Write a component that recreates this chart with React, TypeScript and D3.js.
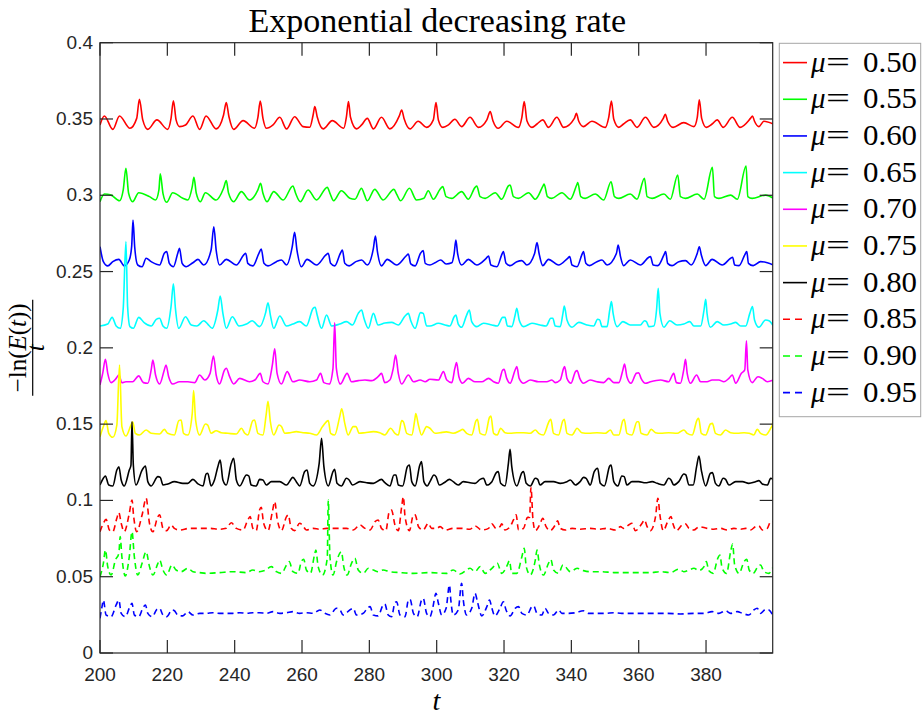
import React from "react";
import * as d3 from "d3";

type P = [number, number];

const MU_LABELS = ["0.50", "0.55", "0.60", "0.65", "0.70", "0.75", "0.80", "0.85", "0.90", "0.95"];
const COLORS = ["#ff0000", "#00ff00", "#0000ff", "#00ffff", "#ff00ff", "#ffff00", "#000000", "#ff0000", "#00ff00", "#0000ff"];
const DASHED = [false, false, false, false, false, false, false, true, true, true];
const X_TICKS = [200, 220, 240, 260, 280, 300, 320, 340, 360, 380];
const Y_TICKS = [0, 0.05, 0.1, 0.15, 0.2, 0.25, 0.3, 0.35, 0.4];
const Y_TICK_LABELS = ["0", "0.05", "0.1", "0.15", "0.2", "0.25", "0.3", "0.35", "0.4"];

const S050: P[] = [[200.0,.3461],[201.3,.3520],[203.8,.3432],[205.8,.3520],[208.9,.3439],[210.9,.3504],[211.7,.3629],[212.7,.3494],[214.2,.3432],[216.9,.3494],[220.1,.3432],[221.1,.3504],[221.8,.3620],[222.6,.3494],[223.6,.3450],[225.4,.3461],[227.6,.3520],[229.6,.3432],[231.5,.3520],[234.5,.3435],[236.7,.3526],[237.5,.3607],[238.3,.3515],[239.7,.3432],[242.5,.3489],[245.9,.3439],[246.9,.3511],[247.6,.3618],[248.4,.3504],[249.4,.3439],[251.4,.3461],[253.4,.3511],[255.4,.3435],[257.8,.3515],[260.3,.3450],[262.3,.3446],[263.3,.3526],[263.8,.3581],[264.5,.3515],[266.3,.3435],[269.0,.3489],[272.4,.3439],[273.2,.3515],[273.8,.3614],[274.4,.3511],[276.2,.3435],[277.7,.3461],[279.4,.3504],[281.2,.3435],[283.6,.3511],[286.1,.3435],[288.9,.3520],[289.6,.3559],[290.3,.3504],[292.1,.3435],[294.5,.3485],[297.0,.3445],[299.0,.3494],[299.8,.3607],[300.5,.3494],[301.8,.3445],[303.5,.3461],[305.4,.3498],[307.4,.3450],[309.9,.3511],[312.4,.3445],[314.9,.3494],[315.9,.3548],[316.7,.3489],[318.3,.3439],[320.8,.3485],[324.3,.3445],[325.3,.3511],[326.0,.3614],[326.8,.3489],[328.3,.3445],[329.8,.3467],[331.5,.3494],[333.2,.3445],[335.7,.3511],[337.7,.3445],[340.9,.3504],[341.5,.3537],[342.2,.3485],[343.6,.3450],[346.1,.3485],[350.1,.3445],[351.1,.3511],[351.9,.3618],[352.6,.3498],[354.1,.3445],[355.5,.3467],[357.5,.3494],[359.5,.3445],[362.0,.3511],[364.5,.3445],[367.3,.3504],[367.9,.3531],[368.6,.3485],[370.2,.3445],[373.4,.3476],[376.4,.3450],[377.4,.3511],[378.0,.3625],[378.7,.3504],[380.1,.3445],[381.8,.3467],[383.3,.3494],[385.1,.3445],[387.8,.3511],[390.1,.3445],[393.2,.3504],[393.8,.3520],[394.4,.3485],[395.7,.3450],[397.2,.3485],[400.0,.3467]];

const S055: P[] = [[200.0,.2958],[201.3,.3008],[203.3,.3001],[205.8,.2964],[206.9,.3035],[207.7,.3177],[208.5,.3013],[209.7,.2958],[211.5,.3017],[214.7,.2991],[216.5,.2969],[217.5,.3035],[217.9,.3140],[218.7,.3013],[219.8,.2954],[221.6,.3017],[224.6,.2980],[226.1,.2969],[227.4,.3057],[227.9,.3118],[228.6,.3013],[229.8,.2958],[231.3,.3017],[234.5,.2969],[236.7,.3046],[237.5,.3096],[238.2,.3013],[239.7,.2958],[242.0,.3024],[244.4,.2969],[246.9,.3035],[247.7,.3078],[248.4,.3013],[249.6,.2958],[251.6,.3024],[254.4,.2969],[257.3,.3061],[258.1,.3013],[259.5,.2958],[261.8,.3035],[264.3,.2969],[267.5,.3052],[268.3,.3013],[269.4,.2964],[271.7,.3030],[274.2,.2980],[275.7,.2974],[277.7,.3046],[278.4,.3013],[279.4,.2964],[281.6,.3039],[284.1,.2969],[287.3,.3039],[288.1,.3008],[289.3,.2964],[291.9,.3046],[294.0,.2969],[296.2,.2980],[297.5,.3030],[299.0,.2974],[301.0,.3039],[301.8,.3057],[302.8,.2991],[304.5,.2980],[307.4,.3024],[309.4,.2974],[311.4,.3052],[311.9,.3061],[312.9,.2991],[314.4,.2980],[317.4,.3017],[319.3,.2974],[321.3,.3061],[321.8,.3067],[322.8,.2991],[324.3,.2980],[327.3,.3017],[329.3,.2974],[331.7,.3067],[331.9,.3074],[332.9,.2991],[334.2,.2980],[337.2,.3017],[339.7,.2974],[341.7,.3074],[341.9,.3083],[342.8,.2991],[344.1,.2980],[347.1,.3008],[349.6,.2969],[351.8,.3089],[352.8,.2991],[354.1,.2980],[357.5,.3008],[359.5,.2974],[361.7,.3111],[362.5,.2991],[364.0,.2980],[367.5,.3008],[369.4,.2974],[371.6,.3133],[372.4,.2991],[373.9,.2980],[377.4,.3008],[379.4,.2974],[381.9,.3183],[382.5,.2991],[383.8,.2980],[387.3,.3001],[389.3,.2974],[391.9,.3192],[392.4,.2991],[393.7,.2980],[397.7,.3001],[400.0,.2980]];

const S060: P[] = [[200.0,.2663],[201.0,.2565],[202.3,.2537],[203.8,.2565],[205.6,.2580],[207.2,.2537],[208.7,.2576],[209.4,.2663],[209.8,.2838],[210.3,.2663],[211.2,.2543],[212.5,.2532],[213.7,.2587],[215.2,.2565],[217.7,.2543],[219.1,.2620],[219.8,.2631],[220.6,.2554],[221.8,.2532],[223.1,.2620],[223.6,.2652],[224.4,.2554],[225.6,.2532],[227.6,.2558],[229.1,.2580],[230.8,.2543],[233.0,.2641],[233.8,.2794],[234.5,.2641],[235.5,.2543],[237.5,.2580],[240.5,.2543],[242.7,.2609],[243.3,.2620],[243.9,.2554],[245.4,.2537],[247.2,.2620],[247.9,.2648],[248.7,.2554],[249.9,.2537],[252.4,.2565],[253.9,.2576],[255.4,.2543],[257.1,.2663],[257.8,.2757],[258.5,.2641],[259.8,.2532],[261.5,.2580],[264.3,.2543],[267.1,.2609],[267.8,.2620],[268.5,.2554],[269.7,.2537],[271.4,.2620],[272.0,.2641],[272.7,.2554],[274.0,.2537],[276.0,.2565],[277.7,.2576],[279.4,.2543],[281.2,.2652],[281.8,.2733],[282.4,.2631],[283.6,.2537],[285.3,.2580],[288.1,.2543],[290.9,.2602],[291.6,.2615],[292.3,.2550],[293.6,.2537],[295.2,.2620],[296.0,.2637],[296.6,.2554],[298.0,.2543],[299.5,.2558],[301.2,.2576],[302.8,.2550],[304.5,.2558],[305.2,.2620],[305.7,.2707],[306.2,.2620],[307.4,.2543],[309.4,.2580],[311.9,.2543],[314.7,.2587],[315.4,.2602],[316.1,.2543],[317.9,.2532],[319.3,.2609],[319.8,.2631],[320.6,.2554],[321.8,.2539],[323.8,.2565],[325.3,.2572],[326.8,.2543],[329.1,.2620],[329.8,.2690],[330.4,.2620],[331.5,.2539],[333.2,.2580],[336.2,.2543],[338.9,.2587],[339.5,.2598],[340.2,.2543],[341.7,.2532],[343.1,.2609],[343.6,.2631],[344.3,.2554],[345.4,.2539],[347.6,.2565],[349.1,.2576],[350.6,.2543],[353.4,.2620],[353.9,.2674],[354.6,.2598],[355.5,.2539],[357.5,.2576],[360.5,.2543],[363.0,.2594],[363.5,.2598],[364.3,.2543],[365.7,.2539],[367.5,.2609],[368.0,.2631],[368.6,.2554],[369.9,.2539],[371.9,.2565],[373.9,.2572],[375.6,.2543],[377.4,.2620],[378.0,.2663],[378.6,.2609],[379.9,.2539],[381.8,.2580],[384.8,.2543],[387.3,.2587],[387.9,.2594],[388.5,.2543],[389.8,.2539],[391.5,.2609],[392.1,.2631],[392.6,.2554],[394.0,.2539],[396.2,.2565],[398.2,.2558],[400.0,.2543]];

const S065: P[] = [[200.0,.2143],[202.3,.2156],[203.6,.2200],[204.8,.2143],[206.0,.2128],[206.9,.2259],[207.7,.2696],[208.2,.2270],[208.9,.2139],[209.9,.2128],[211.5,.2200],[213.2,.2163],[215.2,.2143],[216.7,.2187],[217.7,.2194],[218.7,.2143],[219.8,.2128],[221.1,.2270],[221.8,.2419],[222.4,.2259],[223.4,.2128],[225.4,.2204],[227.1,.2150],[228.8,.2143],[230.8,.2178],[232.0,.2156],[233.3,.2128],[235.0,.2248],[235.7,.2340],[236.5,.2226],[237.5,.2128],[239.3,.2204],[241.3,.2143],[243.5,.2156],[245.2,.2178],[247.4,.2139],[249.2,.2231],[249.9,.2296],[250.6,.2215],[251.6,.2128],[253.4,.2209],[255.4,.2143],[257.3,.2156],[259.3,.2172],[261.3,.2143],[263.3,.2259],[263.9,.2266],[264.5,.2215],[265.8,.2128],[267.3,.2215],[268.8,.2143],[271.2,.2156],[273.2,.2172],[275.0,.2150],[276.7,.2226],[277.7,.2248],[278.4,.2194],[279.7,.2128],[281.2,.2226],[282.6,.2150],[284.6,.2163],[286.6,.2167],[288.6,.2150],[290.6,.2209],[291.6,.2226],[292.3,.2178],[293.6,.2128],[295.2,.2231],[296.0,.2226],[297.0,.2143],[298.0,.2143],[300.5,.2161],[302.5,.2150],[303.9,.2143],[305.2,.2204],[305.7,.2215],[306.4,.2156],[307.4,.2135],[308.9,.2215],[309.7,.2248],[310.4,.2172],[311.9,.2139],[313.9,.2161],[316.4,.2150],[318.0,.2143],[319.6,.2200],[320.3,.2200],[321.0,.2143],[322.3,.2139],[323.3,.2215],[323.8,.2259],[324.5,.2183],[325.8,.2139],[328.3,.2161],[330.7,.2150],[332.5,.2143],[333.9,.2194],[334.5,.2194],[335.2,.2143],[336.7,.2139],[337.5,.2226],[337.9,.2274],[338.7,.2183],[340.2,.2135],[342.2,.2167],[344.6,.2150],[346.6,.2143],[347.8,.2187],[348.4,.2183],[349.1,.2139],[350.6,.2139],[351.4,.2248],[351.9,.2303],[352.4,.2226],[353.6,.2139],[355.3,.2172],[357.5,.2150],[360.5,.2150],[361.7,.2178],[362.3,.2172],[363.0,.2139],[364.5,.2143],[365.3,.2248],[365.8,.2390],[366.3,.2226],[367.5,.2135],[369.2,.2178],[371.4,.2150],[373.4,.2156],[375.2,.2172],[376.4,.2143],[378.4,.2143],[379.4,.2248],[379.9,.2318],[380.3,.2226],[381.3,.2135],[383.3,.2172],[385.3,.2150],[387.3,.2156],[388.8,.2167],[390.3,.2143],[391.8,.2143],[393.0,.2226],[393.8,.2270],[394.4,.2183],[395.7,.2135],[397.7,.2183],[398.7,.2178],[400.0,.2143]];

const S070: P[] = [[200.0,.1757],[200.8,.1833],[201.6,.1925],[202.3,.1833],[203.3,.1772],[204.8,.1800],[205.6,.1822],[206.5,.1772],[207.7,.1778],[209.7,.1778],[211.5,.1816],[212.9,.1772],[214.2,.1768],[215.2,.1855],[215.7,.1920],[216.5,.1822],[217.7,.1763],[219.1,.1855],[219.6,.1888],[220.4,.1811],[221.6,.1763],[223.6,.1778],[226.1,.1778],[228.1,.1772],[229.6,.1822],[231.1,.1789],[232.7,.1833],[233.7,.1947],[234.5,.1822],[235.5,.1763],[237.0,.1855],[237.5,.1866],[238.5,.1811],[239.7,.1763],[241.5,.1800],[244.4,.1778],[246.0,.1789],[247.6,.1833],[248.4,.1778],[249.9,.1763],[251.2,.1888],[251.9,.1993],[252.6,.1833],[253.9,.1763],[255.6,.1844],[257.3,.1778],[259.3,.1789],[262.3,.1778],[264.3,.1789],[265.5,.1833],[266.5,.1772],[268.1,.1763],[269.2,.1866],[269.7,.2165],[270.2,.1866],[271.4,.1763],[273.4,.1833],[274.7,.1778],[276.7,.1785],[278.7,.1789],[280.7,.1785],[282.6,.1811],[283.6,.1833],[284.6,.1772],[286.1,.1789],[287.1,.1866],[287.8,.1953],[288.6,.1833],[289.6,.1763],[291.6,.1822],[293.1,.1778],[295.1,.1789],[296.6,.1778],[298.0,.1794],[300.5,.1789],[302.0,.1844],[303.0,.1789],[304.5,.1772],[305.4,.1866],[305.9,.1903],[306.6,.1811],[307.7,.1768],[309.4,.1800],[311.4,.1778],[313.4,.1778],[315.4,.1800],[316.9,.1778],[318.3,.1768],[319.6,.1855],[320.0,.1859],[320.8,.1800],[321.8,.1768],[323.3,.1855],[323.8,.1877],[324.5,.1800],[325.8,.1768],[327.8,.1789],[330.2,.1778],[332.7,.1778],[334.2,.1789],[335.2,.1772],[336.7,.1789],[337.7,.1866],[338.0,.1877],[338.7,.1800],[339.9,.1768],[341.2,.1844],[341.7,.1851],[342.5,.1800],[343.6,.1768],[345.6,.1789],[347.6,.1778],[349.6,.1772],[351.1,.1800],[352.6,.1772],[354.1,.1772],[355.3,.1855],[355.8,.1894],[356.5,.1811],[357.7,.1768],[359.3,.1833],[360.0,.1837],[360.7,.1800],[362.0,.1768],[363.5,.1778],[366.5,.1789],[368.9,.1778],[370.4,.1833],[371.2,.1772],[372.4,.1768],[373.4,.1859],[373.9,.1925],[374.4,.1833],[375.4,.1768],[377.2,.1822],[378.4,.1778],[380.3,.1778],[381.8,.1789],[383.8,.1789],[385.3,.1778],[386.8,.1800],[387.8,.1822],[388.8,.1768],[390.5,.1833],[391.5,.1855],[392.0,.2047],[392.4,.1855],[393.7,.1772],[395.4,.1811],[396.7,.1800],[398.2,.1778],[400.0,.1789]];

const S075: P[] = [[200.0,.1418],[201.0,.1484],[201.8,.1523],[202.6,.1440],[203.8,.1414],[205.0,.1494],[205.8,.1888],[206.5,.1484],[207.7,.1422],[209.2,.1494],[209.7,.1516],[210.5,.1440],[211.7,.1429],[213.7,.1462],[215.2,.1440],[217.7,.1435],[219.1,.1466],[220.1,.1440],[222.1,.1429],[223.4,.1523],[224.1,.1527],[224.8,.1440],[226.1,.1429],[227.4,.1571],[227.8,.1720],[228.4,.1527],[229.6,.1429],[231.3,.1501],[232.0,.1494],[233.0,.1440],[234.5,.1457],[236.0,.1444],[238.0,.1440],[240.5,.1435],[242.0,.1473],[243.0,.1440],[243.9,.1429],[245.4,.1523],[245.9,.1527],[246.9,.1440],[248.4,.1429],[249.4,.1571],[249.9,.1650],[250.6,.1516],[251.6,.1429],[253.2,.1494],[253.9,.1484],[254.9,.1440],[256.5,.1444],[258.3,.1451],[260.3,.1444],[262.3,.1440],[264.3,.1429],[266.1,.1484],[267.8,.1523],[268.5,.1440],[269.7,.1429],[271.2,.1549],[271.8,.1600],[272.7,.1505],[273.7,.1429],[275.2,.1484],[276.0,.1484],[277.0,.1440],[278.7,.1444],[281.2,.1451],[283.1,.1444],[284.6,.1429],[286.3,.1473],[287.6,.1440],[288.6,.1429],[289.6,.1523],[290.1,.1516],[291.1,.1440],[292.6,.1429],[293.5,.1530],[293.8,.1570],[294.5,.1501],[295.5,.1429],[297.0,.1484],[298.0,.1473],[299.5,.1440],[301.0,.1444],[302.9,.1449],[304.9,.1440],[306.9,.1457],[307.7,.1466],[308.9,.1440],[310.4,.1429],[311.7,.1523],[312.1,.1531],[312.9,.1440],[314.4,.1429],[315.7,.1545],[316.1,.1553],[316.9,.1440],[318.0,.1429],[319.0,.1473],[320.3,.1444],[321.8,.1440],[323.8,.1444],[325.8,.1444],[327.8,.1440],[329.3,.1462],[330.3,.1440],[331.7,.1429],[333.5,.1523],[333.9,.1531],[334.7,.1440],[336.2,.1429],[337.5,.1523],[337.9,.1531],[338.7,.1440],[340.2,.1429],[341.7,.1473],[343.1,.1444],[345.1,.1440],[347.6,.1444],[350.1,.1440],[351.6,.1462],[352.6,.1429],[354.1,.1429],[355.3,.1523],[355.7,.1531],[356.5,.1440],[358.0,.1429],[359.5,.1516],[360.0,.1516],[360.7,.1440],[362.5,.1429],[363.7,.1466],[365.0,.1444],[366.5,.1440],[368.9,.1444],[371.4,.1440],[373.4,.1462],[374.4,.1440],[375.9,.1429],[377.4,.1531],[377.8,.1538],[378.6,.1440],[379.9,.1429],[381.3,.1501],[381.9,.1505],[382.8,.1440],[384.3,.1429],[385.8,.1462],[387.3,.1444],[389.3,.1440],[391.3,.1444],[392.8,.1440],[394.2,.1429],[395.2,.1466],[396.2,.1440],[397.7,.1429],[399.2,.1473],[399.7,.1494],[400.0,.1549]];

const S080: P[] = [[200.0,.1101],[201.0,.1145],[201.6,.1160],[202.6,.1101],[203.8,.1095],[205.0,.1199],[205.6,.1221],[206.3,.1134],[207.2,.1095],[208.7,.1199],[209.2,.1232],[209.5,.1516],[209.9,.1232],[210.7,.1101],[212.5,.1199],[213.5,.1226],[214.2,.1123],[215.2,.1095],[217.2,.1156],[217.9,.1151],[218.7,.1101],[220.1,.1108],[222.1,.1123],[224.6,.1112],[226.1,.1112],[227.6,.1138],[229.1,.1108],[230.6,.1095],[231.5,.1173],[232.0,.1178],[233.0,.1095],[234.0,.1134],[235.0,.1221],[235.7,.1265],[236.5,.1134],[237.5,.1101],[239.0,.1243],[239.7,.1276],[240.5,.1134],[241.5,.1095],[243.5,.1167],[244.2,.1160],[244.9,.1101],[246.4,.1095],[247.4,.1138],[248.4,.1134],[249.4,.1101],[250.9,.1123],[253.4,.1123],[255.4,.1101],[257.3,.1151],[258.3,.1123],[259.3,.1095],[260.8,.1189],[261.5,.1199],[262.3,.1112],[263.3,.1095],[265.1,.1243],[265.8,.1407],[266.5,.1221],[267.8,.1095],[269.2,.1189],[269.7,.1204],[270.4,.1112],[271.7,.1095],[273.2,.1145],[274.0,.1134],[275.0,.1101],[277.2,.1123],[279.2,.1116],[281.2,.1112],[283.6,.1138],[284.6,.1116],[286.1,.1095],[287.3,.1167],[287.9,.1167],[288.6,.1101],[289.9,.1095],[291.3,.1221],[291.9,.1232],[292.6,.1123],[293.6,.1095],[295.0,.1232],[295.5,.1254],[296.2,.1123],[297.2,.1095],[298.0,.1123],[299.2,.1167],[299.8,.1156],[300.8,.1101],[302.2,.1116],[303.8,.1138],[304.9,.1123],[306.4,.1101],[307.9,.1123],[309.9,.1116],[311.4,.1112],[312.9,.1138],[313.9,.1145],[314.9,.1101],[316.4,.1123],[317.7,.1182],[318.3,.1189],[319.0,.1112],[320.3,.1095],[321.3,.1243],[321.8,.1335],[322.3,.1221],[323.8,.1095],[325.3,.1182],[325.8,.1189],[326.6,.1112],[327.8,.1095],[329.3,.1145],[330.0,.1138],[330.7,.1101],[332.2,.1123],[334.7,.1123],[336.7,.1112],[338.7,.1123],[339.7,.1134],[341.2,.1101],[342.6,.1123],[343.6,.1151],[344.4,.1145],[345.6,.1101],[346.8,.1189],[347.8,.1211],[348.6,.1112],[349.8,.1095],[351.4,.1226],[351.8,.1232],[352.6,.1123],[353.8,.1095],[355.0,.1160],[355.7,.1156],[356.5,.1101],[358.0,.1123],[360.0,.1123],[362.0,.1116],[364.0,.1123],[365.5,.1112],[367.5,.1101],[368.9,.1145],[369.6,.1134],[370.4,.1101],[371.9,.1123],[373.4,.1173],[374.0,.1167],[374.9,.1101],[376.2,.1101],[377.2,.1221],[377.9,.1291],[378.6,.1199],[379.9,.1095],[381.3,.1178],[381.9,.1182],[382.8,.1112],[383.8,.1095],[385.1,.1145],[385.8,.1138],[386.8,.1101],[388.8,.1123],[390.8,.1123],[392.7,.1112],[394.7,.1123],[395.7,.1130],[396.7,.1108],[398.2,.1101],[399.2,.1145],[400.0,.1134]];

const S085: P[] = [[200.0,.0795],[201.0,.0850],[201.8,.0876],[202.8,.0806],[203.8,.0795],[205.0,.0883],[205.6,.0920],[206.3,.0850],[207.2,.0795],[208.7,.0915],[209.5,.1003],[210.0,.0894],[210.9,.0795],[212.5,.0905],[213.7,.1014],[214.7,.0850],[215.7,.0795],[217.2,.0894],[217.7,.0905],[218.7,.0817],[219.8,.0802],[221.1,.0839],[222.1,.0817],[223.6,.0806],[226.6,.0817],[229.6,.0817],[232.5,.0817],[235.5,.0811],[237.5,.0817],[239.0,.0854],[240.5,.0817],[242.5,.0806],[243.9,.0872],[244.6,.0894],[245.4,.0817],[246.4,.0802],[247.4,.0937],[247.9,.0955],[248.6,.0850],[249.9,.0802],[251.2,.0926],[251.9,.0992],[252.6,.0883],[253.9,.0802],[255.4,.0894],[255.9,.0905],[256.8,.0817],[257.8,.0802],[259.3,.0850],[260.1,.0839],[261.3,.0806],[263.3,.0817],[265.3,.0811],[267.3,.0817],[269.2,.0817],[271.2,.0817],[273.2,.0817],[275.2,.0806],[277.2,.0839],[278.7,.0817],[280.2,.0806],[281.7,.0861],[282.6,.0872],[283.6,.0817],[284.9,.0802],[285.9,.0926],[286.6,.0937],[287.6,.0839],[288.6,.0802],[289.6,.0959],[290.1,.1025],[290.6,.0894],[291.9,.0802],[293.1,.0905],[293.6,.0905],[294.6,.0828],[296.0,.0806],[297.5,.0850],[298.5,.0817],[300.0,.0817],[301.0,.0828],[302.5,.0806],[304.9,.0817],[307.4,.0817],[309.9,.0811],[311.4,.0833],[313.4,.0806],[315.4,.0817],[316.4,.0846],[317.6,.0817],[318.8,.0828],[319.3,.0846],[320.3,.0806],[321.8,.0828],[322.8,.0872],[323.6,.0905],[324.3,.0806],[325.8,.0817],[327.0,.0889],[327.6,.0889],[328.0,.1086],[328.6,.0872],[329.3,.0802],[330.7,.0846],[331.5,.0883],[332.5,.0828],[333.7,.0802],[335.2,.0839],[335.9,.0867],[336.7,.0817],[338.2,.0806],[340.2,.0817],[342.6,.0811],[345.6,.0817],[348.1,.0811],[350.6,.0817],[353.1,.0806],[354.6,.0828],[355.5,.0817],[357.0,.0839],[358.0,.0850],[359.0,.0802],[361.0,.0850],[361.7,.0872],[362.5,.0828],[363.5,.0802],[365.0,.0894],[365.7,.1014],[366.3,.0905],[367.3,.0802],[368.6,.0861],[369.6,.0894],[370.2,.0846],[371.2,.0802],[372.9,.0839],[373.9,.0846],[374.9,.0817],[376.4,.0806],[377.9,.0828],[380.3,.0817],[382.3,.0811],[384.3,.0817],[386.3,.0806],[388.3,.0817],[390.3,.0811],[391.8,.0817],[393.2,.0806],[394.7,.0828],[395.7,.0833],[396.7,.0806],[398.2,.0817],[399.2,.0861],[400.0,.0861]];

const S090: P[] = [[200.0,.0500],[201.0,.0588],[201.6,.0675],[202.3,.0566],[203.3,.0511],[204.6,.0610],[205.6,.0653],[206.0,.0763],[206.5,.0631],[207.5,.0505],[208.7,.0631],[209.5,.0795],[210.2,.0631],[211.2,.0511],[212.5,.0588],[213.7,.0664],[214.7,.0566],[215.7,.0511],[217.2,.0588],[217.7,.0610],[218.7,.0544],[219.8,.0511],[221.4,.0577],[222.6,.0544],[224.1,.0533],[226.1,.0555],[227.6,.0533],[229.6,.0527],[231.5,.0522],[235.5,.0527],[239.5,.0533],[243.5,.0527],[245.4,.0544],[247.4,.0533],[248.9,.0540],[250.9,.0566],[252.4,.0533],[253.9,.0522],[255.4,.0577],[256.2,.0599],[257.3,.0533],[258.8,.0522],[259.8,.0599],[260.5,.0614],[261.3,.0544],[262.5,.0522],[263.8,.0653],[264.1,.0675],[264.8,.0566],[266.1,.0511],[267.5,.0621],[267.8,.1003],[268.3,.0631],[269.2,.0511],[270.4,.0610],[271.7,.0664],[272.4,.0566],[273.4,.0511],[274.7,.0588],[275.7,.0621],[276.7,.0544],[278.2,.0522],[279.7,.0555],[281.2,.0544],[282.6,.0533],[284.1,.0544],[286.1,.0533],[289.1,.0527],[293.1,.0522],[298.0,.0527],[302.9,.0522],[304.9,.0544],[306.9,.0518],[309.9,.0555],[311.4,.0533],[312.9,.0566],[314.4,.0522],[316.4,.0555],[318.0,.0588],[319.3,.0522],[321.0,.0577],[321.6,.0605],[322.3,.0522],[323.8,.0522],[325.3,.0631],[326.0,.0686],[326.6,.0566],[327.8,.0511],[329.3,.0610],[329.8,.0675],[330.5,.0577],[331.7,.0511],[333.2,.0588],[333.9,.0614],[334.7,.0544],[336.2,.0522],[337.5,.0577],[338.2,.0566],[339.7,.0533],[341.7,.0555],[343.6,.0540],[345.6,.0533],[349.1,.0533],[352.6,.0527],[356.5,.0527],[360.5,.0527],[363.5,.0527],[366.5,.0533],[369.4,.0527],[371.9,.0549],[373.4,.0533],[374.9,.0544],[376.4,.0555],[377.9,.0540],[379.4,.0566],[380.1,.0599],[380.8,.0540],[382.1,.0522],[383.5,.0621],[384.1,.0642],[384.8,.0555],[386.1,.0522],[387.3,.0664],[387.9,.0714],[388.5,.0577],[389.8,.0522],[391.3,.0599],[392.1,.0614],[392.8,.0544],[394.0,.0522],[395.4,.0566],[396.2,.0577],[397.2,.0533],[398.7,.0522],[399.7,.0555],[400.0,.0560]];

const S095: P[] = [[200.0,.0227],[200.6,.0304],[201.0,.0347],[201.8,.0249],[203.3,.0238],[204.8,.0315],[205.6,.0347],[206.3,.0260],[207.5,.0238],[208.9,.0304],[209.5,.0326],[210.2,.0249],[211.5,.0238],[212.7,.0293],[213.5,.0315],[214.2,.0260],[215.5,.0238],[216.9,.0286],[217.7,.0293],[218.7,.0249],[219.8,.0238],[221.4,.0282],[222.1,.0277],[223.1,.0249],[224.6,.0243],[226.1,.0271],[227.6,.0249],[229.6,.0260],[231.5,.0260],[233.5,.0264],[235.5,.0260],[237.5,.0260],[239.5,.0260],[241.5,.0264],[243.5,.0260],[245.4,.0264],[247.4,.0264],[249.4,.0260],[251.4,.0271],[253.4,.0260],[255.4,.0264],[257.3,.0271],[259.3,.0260],[261.3,.0264],[263.3,.0260],[265.3,.0282],[266.8,.0260],[268.3,.0249],[270.2,.0293],[271.2,.0286],[272.2,.0249],[274.2,.0282],[275.2,.0293],[276.2,.0249],[278.2,.0260],[279.4,.0293],[280.2,.0304],[281.2,.0249],[282.6,.0243],[284.1,.0315],[284.6,.0321],[285.6,.0249],[286.6,.0238],[287.6,.0330],[288.1,.0336],[289.1,.0249],[290.6,.0238],[291.6,.0347],[292.1,.0352],[293.1,.0260],[294.2,.0238],[295.5,.0347],[296.0,.0358],[297.0,.0260],[298.0,.0238],[298.8,.0293],[299.8,.0391],[300.5,.0326],[301.5,.0249],[302.8,.0293],[303.8,.0446],[304.2,.0347],[304.9,.0249],[306.4,.0282],[307.4,.0457],[307.9,.0347],[308.9,.0249],[310.4,.0293],[311.4,.0391],[312.1,.0336],[313.4,.0243],[314.9,.0304],[315.7,.0347],[316.4,.0293],[317.3,.0243],[318.8,.0293],[319.8,.0336],[320.6,.0282],[321.8,.0243],[323.3,.0293],[324.3,.0304],[325.3,.0260],[326.8,.0249],[328.3,.0304],[328.8,.0308],[329.8,.0260],[331.2,.0249],[332.2,.0293],[333.2,.0260],[334.7,.0249],[336.2,.0282],[337.2,.0260],[339.2,.0260],[341.2,.0264],[343.6,.0277],[345.1,.0260],[347.6,.0260],[350.1,.0260],[352.6,.0264],[355.0,.0260],[357.5,.0260],[360.5,.0260],[364.5,.0260],[368.4,.0260],[372.4,.0256],[376.4,.0260],[379.4,.0260],[381.8,.0271],[383.8,.0260],[385.8,.0277],[387.3,.0260],[389.3,.0271],[390.8,.0260],[392.7,.0249],[394.2,.0282],[395.2,.0293],[396.2,.0260],[397.7,.0286],[398.7,.0282],[400.0,.0238]];

const SERIES: P[][] = [S050, S055, S060, S065, S070, S075, S080, S085, S090, S095];

const AX = "#262626";
const SANS = "Liberation Sans, Arial, Helvetica, sans-serif";
const SERIF = "Liberation Serif, Times New Roman, serif";

export default function App() {
  const W = 922, H = 717;
  const L = 100, R = 772.7, T = 42.7, B = 653;
  const x = d3.scaleLinear().domain([200, 399.8]).range([L, R]);
  const y = d3.scaleLinear().domain([0, 0.4]).range([B, T]);
  const line = d3.line<P>().x(d => x(d[0])).y(d => y(d[1])).curve(d3.curveMonotoneX);
  const tickLen = 13;

  const legX0 = 779.3, legY0 = 43.3, legX1 = 920.7, legY1 = 416.7;
  const rowY = (i: number) => 62.6 + i * 36.67;

  return (
    <svg width={W} height={H} viewBox={`0 0 ${W} ${H}`} style={{ position: "absolute", left: 0, top: 0, display: "block", background: "#fff" }}>
      <defs>
        <clipPath id="plotclip">
          <rect x={L} y={T} width={R - L} height={B - T} />
        </clipPath>
      </defs>
      <rect x={0} y={0} width={W} height={H} fill="#fff" />
      <rect x={L} y={T} width={R - L} height={B - T} fill="#fff" />

      <g clipPath="url(#plotclip)">
        {SERIES.map((s, i) => (
          <path key={i} d={line(s) || ""} fill="none" stroke={COLORS[i]} strokeWidth={1.6}
            strokeDasharray={DASHED[i] ? "6,4" : undefined} strokeLinejoin="round" />
        ))}
      </g>

      {/* axes box */}
      <rect x={L} y={T} width={R - L} height={B - T} fill="none" stroke={AX} strokeWidth={1.2} />
      {X_TICKS.map(t => (
        <g key={"xt" + t}>
          <line x1={x(t)} x2={x(t)} y1={B} y2={B - tickLen} stroke={AX} strokeWidth={1.2} />
          <line x1={x(t)} x2={x(t)} y1={T} y2={T + tickLen} stroke={AX} strokeWidth={1.2} />
          <text x={x(t)} y={B + 27.5} textAnchor="middle" fontFamily={SANS} fontSize={19} fill={AX}>{t}</text>
        </g>
      ))}
      {Y_TICKS.map((v, i) => (
        <g key={"yt" + i}>
          <line x1={L} x2={L + tickLen} y1={y(v)} y2={y(v)} stroke={AX} strokeWidth={1.2} />
          <line x1={R} x2={R - tickLen} y1={y(v)} y2={y(v)} stroke={AX} strokeWidth={1.2} />
          <text x={L - 7} y={y(v) + 6} textAnchor="end" fontFamily={SANS} fontSize={19} fill={AX}>{Y_TICK_LABELS[i]}</text>
        </g>
      ))}

      {/* title */}
      <text x={(L + R) / 2 + 1} y={31.5} textAnchor="middle" fontFamily={SERIF} fontSize={34} fill="#000">Exponential decreasing rate</text>

      {/* x label */}
      <text x={(L + R) / 2} y={710} textAnchor="middle" fontFamily={SERIF} fontStyle="italic" fontSize={28} fill="#000">t</text>

      {/* y label */}
      <g transform={`translate(0, ${(T + B) / 2}) rotate(-90)`} fontFamily={SERIF} fill="#000">
        <text x={0} y={26} textAnchor="middle" fontSize={25}>
          <tspan>−ln(</tspan><tspan fontStyle="italic">E</tspan><tspan>(</tspan><tspan fontStyle="italic">t</tspan><tspan>))</tspan>
        </text>
        <line x1={-48} x2={48} y1={32.7} y2={32.7} stroke="#000" strokeWidth={1.2} />
        <text x={0} y={44} textAnchor="middle" fontSize={25} fontStyle="italic">t</text>
      </g>

      {/* legend */}
      <rect x={legX0} y={legY0} width={legX1 - legX0} height={legY1 - legY0} fill="#fff" stroke="#a6a6a6" strokeWidth={1} />
      {MU_LABELS.map((lab, i) => (
        <g key={"lg" + i}>
          <line x1={783} x2={807} y1={rowY(i)} y2={rowY(i)} stroke={COLORS[i]} strokeWidth={1.6}
            strokeDasharray={DASHED[i] ? "7,5" : undefined} />
          <text x={811} y={rowY(i) + 9} fontFamily={SERIF} fontStyle="italic" fontSize={29} fill="#000">μ</text>
          <text x={826} y={rowY(i) + 9} fontFamily={SERIF} fontSize={29} fill="#000" textLength={24} lengthAdjust="spacingAndGlyphs">=</text>
          <text x={863} y={rowY(i) + 9} fontFamily={SERIF} fontSize={29} fill="#000" textLength={54} lengthAdjust="spacingAndGlyphs">{lab}</text>
        </g>
      ))}
    </svg>
  );
}
